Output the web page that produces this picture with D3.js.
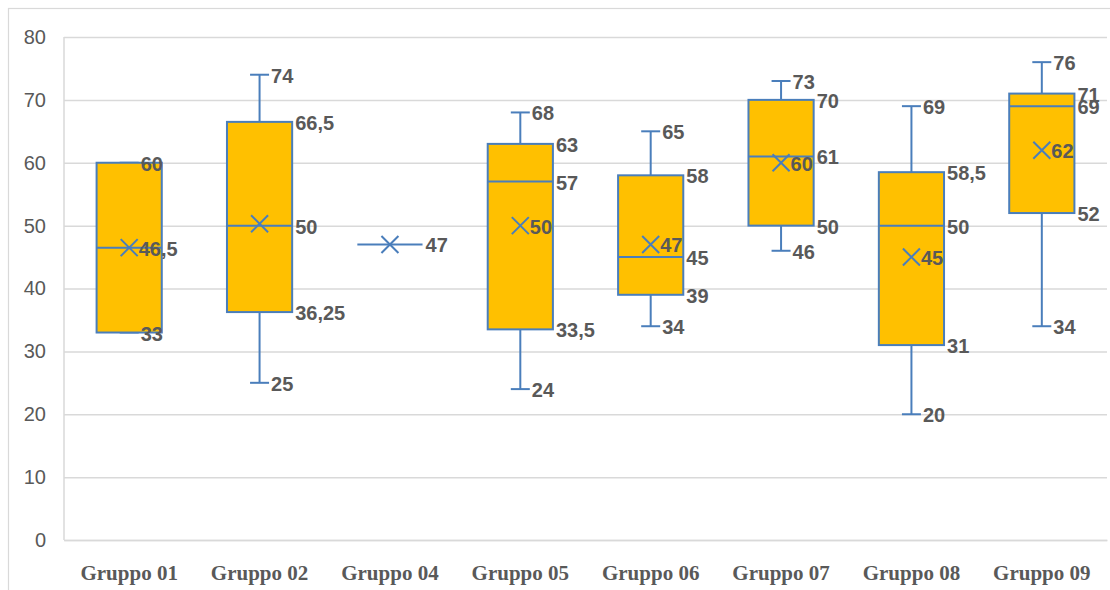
<!DOCTYPE html>
<html>
<head>
<meta charset="utf-8">
<script src="https://cdn.jsdelivr.net/npm/d3@7"></script>
<style>
  html, body { margin: 0; padding: 0; background: #fff; }
  svg { display: block; }
</style>
</head>
<body>
<svg id="chart" width="1110" height="590"></svg>
<script>
// Five-number summaries and means per group
const groups     = ["Gruppo 01", "Gruppo 02", "Gruppo 04", "Gruppo 05", "Gruppo 06", "Gruppo 07", "Gruppo 08", "Gruppo 09"];
const minVals    = [33, 25,    47, 24,   34, 46, 20,   34];
const q1Vals     = [33, 36.25, 47, 33.5, 39, 50, 31,   52];
const medianVals = [46.5, 50,  47, 57,   45, 61, 50,   69];
const q3Vals     = [60, 66.5,  47, 63,   58, 70, 58.5, 71];
const maxVals    = [60, 74,    47, 68,   65, 73, 69,   76];
const meanVals   = [46.5, 50.3, 47, 50,  47, 60, 45,   62];
const yTicks     = [0, 10, 20, 30, 40, 50, 60, 70, 80];

// Value labels that are printed for each group (overlapping ones are left out)
const allKeys = ["max", "q3", "median", "mean", "q1", "min"];
const shownLabels = [
  ["max", "mean", "min"],
  ["max", "q3", "median", "q1", "min"],
  ["q3"],
  allKeys, allKeys, allKeys, allKeys, allKeys
];

const W = 1110, H = 590;
const plot = { left: 64, right: 1107, top: 37, bottom: 540 };
const boxStroke = "#4A7EBB", boxFill = "#FFC000", gridColor = "#D9D9D9", textColor = "#595959";

const svg = d3.select("#chart");

// outer chart frame
svg.append("rect")
  .attr("x", 8.5).attr("y", 8.5)
  .attr("width", W + 20).attr("height", H + 20)
  .attr("fill", "none").attr("stroke", gridColor).attr("stroke-width", 1.2);

const x = d3.scaleBand().domain(groups).range([plot.left, plot.right]);
const y = d3.scaleLinear().domain([0, 80]).range([plot.bottom, plot.top]);

// horizontal gridlines + y tick labels
const yAxis = d3.axisLeft(y).tickValues(yTicks).tickSize(-(plot.right - plot.left)).tickPadding(18).tickFormat(d3.format("d"));
const gy = svg.append("g").attr("transform", `translate(${plot.left},0)`).call(yAxis);
gy.select(".domain").remove();
gy.selectAll(".tick line").attr("stroke", gridColor).attr("stroke-width", 1.5);
gy.selectAll(".tick text")
  .attr("fill", textColor)
  .attr("font-family", "'Liberation Sans', Arial, sans-serif")
  .attr("font-size", 20);

// left border of the plot area and bottom axis line
svg.append("line")
  .attr("x1", plot.left).attr("x2", plot.left)
  .attr("y1", plot.top).attr("y2", plot.bottom)
  .attr("stroke", gridColor).attr("stroke-width", 1.5);

const xAxis = d3.axisBottom(x).tickSize(0).tickPadding(25);
const gx = svg.append("g").attr("transform", `translate(0,${plot.bottom})`).call(xAxis);
gx.select(".domain").attr("stroke", gridColor).attr("stroke-width", 1.5);
gx.selectAll(".tick text")
  .attr("fill", textColor)
  .attr("font-family", "'Liberation Serif', 'Times New Roman', serif")
  .attr("font-weight", "bold")
  .attr("font-size", 21);

const data = groups.map((g, i) => ({
  g, min: minVals[i], q1: q1Vals[i], median: medianVals[i],
  q3: q3Vals[i], max: maxVals[i], mean: meanVals[i], shown: shownLabels[i]
}));

const boxW = x.bandwidth() * 0.5;
const capW = 19;
const markR = 8.5;

const box = svg.append("g").selectAll("g").data(data).join("g")
  .attr("transform", d => `translate(${x(d.g) + x.bandwidth() / 2},0)`);

// whiskers
box.append("line")
  .attr("x1", 0).attr("x2", 0)
  .attr("y1", d => y(d.max)).attr("y2", d => y(d.q3))
  .attr("stroke", boxStroke).attr("stroke-width", 2);
box.append("line")
  .attr("x1", 0).attr("x2", 0)
  .attr("y1", d => y(d.q1)).attr("y2", d => y(d.min))
  .attr("stroke", boxStroke).attr("stroke-width", 2);
box.selectAll("line.cap").data(d => d.max === d.min ? [] : [d.max, d.min]).join("line")
  .attr("class", "cap")
  .attr("x1", -capW / 2).attr("x2", capW / 2)
  .attr("y1", v => y(v)).attr("y2", v => y(v))
  .attr("stroke", boxStroke).attr("stroke-width", 2);

// box
box.append("rect")
  .attr("x", -boxW / 2).attr("width", boxW)
  .attr("y", d => y(d.q3)).attr("height", d => y(d.q1) - y(d.q3))
  .attr("fill", boxFill).attr("stroke", boxStroke).attr("stroke-width", 2);

// median
box.append("line")
  .attr("x1", -boxW / 2).attr("x2", boxW / 2)
  .attr("y1", d => y(d.median)).attr("y2", d => y(d.median))
  .attr("stroke", boxStroke).attr("stroke-width", 2);

// mean marker (×)
box.append("path")
  .attr("d", d => {
    const cy = y(d.mean);
    return `M${-markR},${cy - markR}L${markR},${cy + markR}M${-markR},${cy + markR}L${markR},${cy - markR}`;
  })
  .attr("fill", "none").attr("stroke", boxStroke).attr("stroke-width", 2);

// value labels
const fmt = v => String(v).replace(".", ",");
const labelX = { max: capW / 2 + 2, min: capW / 2 + 2, q1: boxW / 2 + 3, q3: boxW / 2 + 3, median: boxW / 2 + 3, mean: markR + 1 };

box.selectAll("text.val")
  .data(d => d.shown.map(k => ({ k, v: d[k] })))
  .join("text")
  .attr("class", "val")
  .attr("x", e => labelX[e.k])
  .attr("y", e => y(e.v) + 1)
  .attr("dominant-baseline", "central")
  .attr("fill", textColor)
  .attr("font-family", "'Liberation Sans', Arial, sans-serif")
  .attr("font-weight", "bold")
  .attr("font-size", 20)
  .text(e => fmt(e.v));
</script>
</body>
</html>
